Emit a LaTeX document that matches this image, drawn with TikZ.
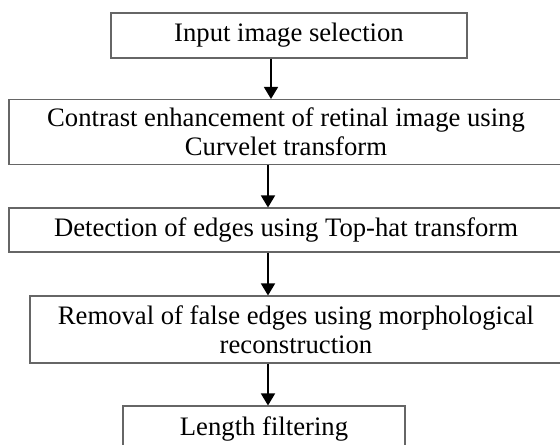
\documentclass[tikz,border=0pt]{standalone}
\usepackage{fontspec}
\setmainfont{Liberation Serif}
\usetikzlibrary{arrows.meta}

\begin{document}
\begin{tikzpicture}[x=.75pt,y=-.75pt,
		blok/.style={draw=black!60,line width=.8pt,align=center,inner sep=0pt,
			font=\fontsize{20}{21.5}\selectfont},
		pijl/.style={line width=1.2pt,-{Triangle[length=9pt,width=10.5pt]}}]
		\useasboundingbox (0,0) rectangle (560,444);
		% boxes
		\node[blok,minimum width=267pt,minimum height=33.75pt] (inp) at (289,35.5){Input image selection};
		\node[blok,minimum width=415.5pt,minimum height=48.75pt] (cont) at (286,132){Contrast enhancement of retinal image using\\Curvelet transform};
		\node[blok,minimum width=415.5pt,minimum height=33pt] (det) at (286,230){Detection of edges using Top-hat transform};
		\node[blok,minimum width=399pt,minimum height=50.25pt] (rem) at (296,329.5){Removal of false edges using morphological\\reconstruction};
		\node[blok,minimum width=211.5pt,minimum height=33.75pt] (len) at (264,428.5){Length filtering};
		%%%%%%%%%%%%%%%%%%%%%%%%%%%%%%%%%
		\coordinate (a1) at (271,0);
		\coordinate (a2) at (268,0);
		\draw[pijl] (inp.south -| a1) -- (cont.north -| a1);
		\draw[pijl] (cont.south -| a2) -- (det.north -| a2);
		\draw[pijl] (det.south -| a2) -- (rem.north -| a2);
		\draw[pijl] (rem.south -| a2) -- (len.north -| a2);
	\end{tikzpicture}
\end{document}
